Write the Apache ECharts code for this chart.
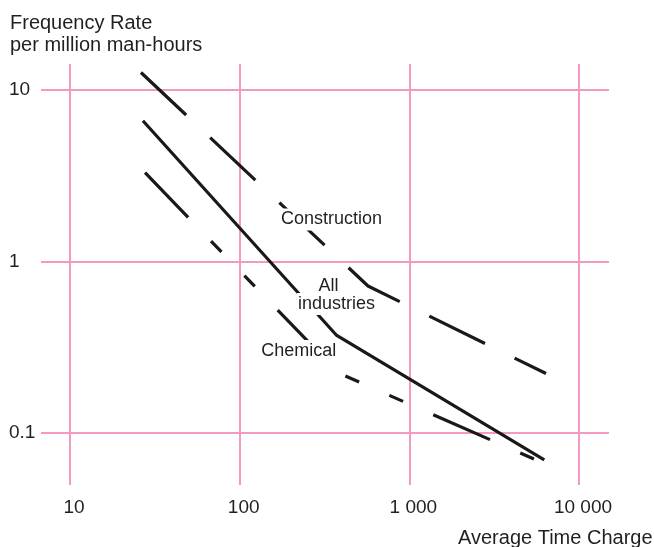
<!DOCTYPE html>
<html><head><meta charset="utf-8">
<script src="https://cdn.jsdelivr.net/npm/echarts@6/dist/echarts.min.js"></script>
<style>html,body{margin:0;padding:0;background:#fff}#c{width:654px;height:547px}</style>
</head><body><div id="c"></div>
<script>
// ---- data ----
const xTicks = [10, 100, 1000, 10000];
const xTickLabels = ['10', '100', '1 000', '10 000'];
const yTicks = [0.1, 1, 10];
const yTickLabels = ['0.1', '1', '10'];

const constructionX = [26.2, 570.6, 6391];
const constructionY = [12.65, 0.720, 0.2222];
const allIndustriesX = [26.9, 373.3, 6244];
const allIndustriesY = [6.62, 0.3703, 0.0696];
const chemicalX = [27.7, 381.4, 5655];
const chemicalY = [3.295, 0.2241, 0.0693];

const seriesNames = ['Construction', 'All industries', 'Chemical'];
const yTitle = 'Frequency Rate\nper million man-hours';
const xTitle = 'Average Time Charge';

// ---- chart ----
const FONT = '"Liberation Sans", Arial, Helvetica, sans-serif';
const TXT = '#231f20';
const PINK = '#f49ac2';
const LINE = '#1a1818';

function pair(xs, ys) { return xs.map((x, i) => [x, ys[i]]); }
function tickFmt(ticks, labels) {
  return function (v) {
    for (let i = 0; i < ticks.length; i++) {
      if (Math.abs(Math.log10(v) - Math.log10(ticks[i])) < 1e-6) return labels[i];
    }
    return '';
  };
}

const chart = echarts.init(document.getElementById('c'), null, { renderer: 'canvas' });
chart.setOption({
  animation: false,
  backgroundColor: '#fff',
  title: {
    text: yTitle, left: 10, top: 12, padding: 0,
    textStyle: { fontSize: 20, fontWeight: 'normal', lineHeight: 22, color: TXT, fontFamily: FONT }
  },
  grid: { left: 41, right: 45, top: 64, bottom: 62 },
  xAxis: {
    type: 'log', logBase: 10,
    min: Math.pow(10, 0.8291), max: Math.pow(10, 4.1768),
    axisLine: { show: false }, axisTick: { show: false },
    splitLine: { show: true, showMinLine: false, showMaxLine: false, lineStyle: { color: PINK, width: 2 } },
    axisLabel: {
      formatter: tickFmt(xTicks, xTickLabels), showMinLabel: false, showMaxLabel: false,
      margin: 13, fontSize: 19, color: TXT, fontFamily: FONT, padding: [0, 0, 0, 8]
    }
  },
  yAxis: {
    type: 'log', logBase: 10,
    min: Math.pow(10, -1.3032), max: Math.pow(10, 1.1516),
    axisLine: { show: false }, axisTick: { show: false },
    splitLine: { show: true, showMinLine: false, showMaxLine: false, lineStyle: { color: PINK, width: 2 } },
    axisLabel: {
      formatter: tickFmt(yTicks, yTickLabels), showMinLabel: false, showMaxLabel: false,
      margin: 32, align: 'left', fontSize: 19, color: TXT, fontFamily: FONT
    }
  },
  series: [
    {
      name: seriesNames[0], type: 'line', symbol: 'none', silent: true, z: 3,
      data: pair(constructionX, constructionY),
      lineStyle: { color: LINE, width: 3.2, type: [62, 33], cap: 'butt' }
    },
    {
      name: seriesNames[1], type: 'line', symbol: 'none', silent: true, z: 3,
      data: pair(allIndustriesX, allIndustriesY),
      lineStyle: { color: LINE, width: 3.2, type: 'solid' }
    },
    {
      name: seriesNames[2], type: 'line', symbol: 'none', silent: true, z: 3,
      data: pair(chemicalX, chemicalY),
      lineStyle: { color: LINE, width: 3.2, type: [62, 33, 15, 33, 15, 33], cap: 'butt' }
    }
  ],
  graphic: [
    { type: 'text', x: 458, y: 538, z: 100,
      style: { text: xTitle, font: '20px ' + FONT, fill: TXT, align: 'left', verticalAlign: 'middle' } },
    { type: 'text', x: 331.5, y: 219.5, z: 100,
      style: { text: seriesNames[0], font: '18px ' + FONT, fill: TXT, align: 'center', verticalAlign: 'middle', backgroundColor: '#fff', padding: [2, 1] } },
    { type: 'text', x: 328.5, y: 286, z: 100,
      style: { text: 'All', font: '18px ' + FONT, fill: TXT, align: 'center', verticalAlign: 'middle', backgroundColor: '#fff', padding: [1, 1] } },
    { type: 'text', x: 336.5, y: 304, z: 100,
      style: { text: 'industries', font: '18px ' + FONT, fill: TXT, align: 'center', verticalAlign: 'middle', backgroundColor: '#fff', padding: [2, 1] } },
    { type: 'text', x: 298.8, y: 351, z: 100,
      style: { text: seriesNames[2], font: '18px ' + FONT, fill: TXT, align: 'center', verticalAlign: 'middle', backgroundColor: '#fff', padding: [2, 1] } }
  ]
});
</script>
</body></html>
